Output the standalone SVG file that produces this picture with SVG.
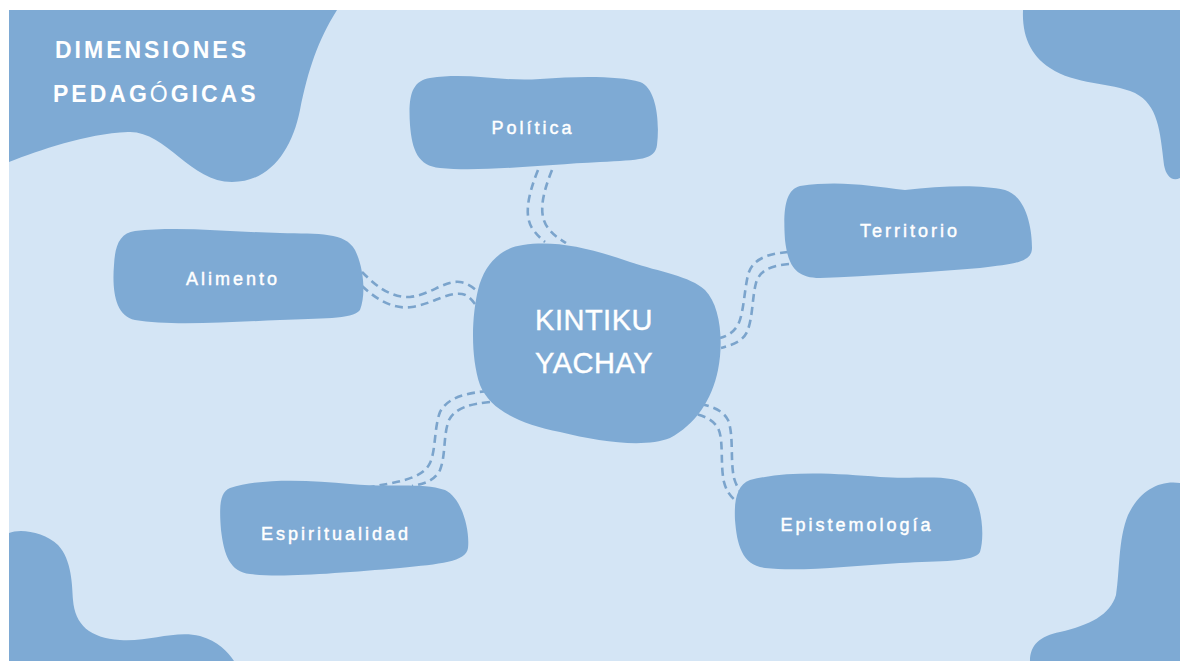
<svg xmlns="http://www.w3.org/2000/svg" width="1180" height="661" viewBox="0 0 1180 661">
<style>
.blob{fill:#7eaad4}
.conn{fill:none;stroke:#7ba4cc;stroke-width:2.6;stroke-dasharray:8 5;stroke-linecap:butt}
.lbl{font-family:"Liberation Sans",Arial,sans-serif;font-size:18px;fill:#ffffff;stroke:#ffffff;stroke-width:0.45;letter-spacing:3px;text-anchor:middle}
.ctr{font-family:"Liberation Sans",Arial,sans-serif;font-size:29px;fill:#ffffff;stroke:#ffffff;stroke-width:0.4;letter-spacing:0.5px;text-anchor:middle}
.ttl{font-family:"Liberation Sans",Arial,sans-serif;font-size:23px;font-weight:bold;fill:#ffffff;letter-spacing:3px}
</style>
<rect x="0" y="0" width="1180" height="661" fill="#ffffff"/>
<rect x="9" y="10" width="1171" height="651" fill="#d4e5f5"/>
<g id="decor">
<path class="blob" d="M9,10 L337,10 C318,40 308,70 300,110 C292,150 270,182 232,182 C190,182 165,130 128,132 C85,134 40,150 9,162 Z"/>
<path class="blob" d="M1023,10 L1180,10 L1180,178 C1172,182 1166,176 1164,165 C1160,130 1158,105 1135,93 C1110,82 1075,85 1050,68 C1030,55 1022,35 1023,10 Z"/>
<path class="blob" d="M9,533 C20,528 45,532 58,545 C72,560 72,585 73,600 C75,625 90,638 120,640 C150,642 175,630 200,636 C218,641 228,652 234,661 L9,661 Z"/>
<path class="blob" d="M1180,483 C1160,480 1140,490 1128,515 C1118,540 1120,570 1116,595 C1110,615 1090,625 1060,632 C1040,636 1030,645 1030,661 L1180,661 Z"/>
</g>
<g id="title">
<text class="ttl" x="55" y="58">DIMENSIONES</text>
<text class="ttl" x="53" y="102">PEDAG<tspan font-weight="normal">Ó</tspan>GICAS</text>
</g>
<g id="connectors">
<path class="conn" d="M538,170 C528,195 524,215 532,228 C536,234 540,238 545,242"/>
<path class="conn" d="M552,170 C542,195 538,215 548,228 C553,235 558,238 566,243"/>
<path class="conn" d="M362,272 C375,285 390,298 410,297 C430,295 445,280 460,282 C468,283 474,288 478,292"/>
<path class="conn" d="M362,286 C375,298 392,310 412,307 C432,304 447,292 462,294 C468,295 472,300 475,304"/>
<path class="conn" d="M788,252 C765,254 752,260 748,275 C744,292 744,312 738,325 C733,333 727,336 720,338"/>
<path class="conn" d="M789,264 C770,266 760,270 756,283 C752,298 753,318 747,332 C742,342 732,345 721,348"/>
<path class="conn" d="M688,402 C705,404 722,408 728,420 C734,435 730,460 734,478 C736,485 739,490 742,494"/>
<path class="conn" d="M685,412 C700,414 712,418 718,428 C724,440 720,465 724,482 C726,490 730,496 735,500"/>
<path class="conn" d="M488,391 C465,393 447,398 440,412 C434,428 436,450 430,463 C422,480 395,482 366,488"/>
<path class="conn" d="M490,402 C470,404 455,408 449,420 C443,435 446,455 440,470 C435,480 425,484 412,486"/>
</g>
<g id="node-center">
<path class="blob" d="M523,245 C555,240 590,248 630,262 C660,272 690,276 705,290 C720,305 724,340 718,370 C712,400 695,425 670,438 C645,448 600,442 560,432 C520,424 490,410 480,385 C470,355 472,315 478,290 C484,265 500,248 523,245 Z"/>
<text class="ctr" x="594" y="330">KINTIKU</text>
<text class="ctr" x="594" y="373">YACHAY</text>
</g>
<g id="node-politica">
<path class="blob" d="M430,78 C470,72 500,82 540,79 C580,76 620,76 640,82 C656,88 660,120 657,145 C655,160 640,160 600,162 C540,165 480,172 440,168 C418,166 412,150 410,125 C408,95 412,81 430,78 Z"/>
<text class="lbl" x="533" y="134">Política</text>
</g>
<g id="node-alimento">
<path class="blob" d="M135,231 C180,226 230,232 280,233 C320,234 345,232 355,250 C364,268 366,295 360,310 C352,320 320,318 280,320 C230,322 170,326 135,320 C115,316 112,290 114,265 C115,245 120,233 135,231 Z"/>
<text class="lbl" x="233" y="285">Alimento</text>
</g>
<g id="node-territorio">
<path class="blob" d="M800,186 C840,180 870,186 905,190 C940,186 980,184 1005,190 C1025,196 1032,225 1032,248 C1032,262 1015,264 980,268 C930,272 870,276 820,278 C795,278 788,265 785,240 C783,210 785,190 800,186 Z"/>
<text class="lbl" x="910" y="237">Territorio</text>
</g>
<g id="node-epistemologia">
<path class="blob" d="M750,480 C790,470 840,474 880,477 C920,480 955,472 970,488 C982,505 985,535 980,552 C975,562 940,561 900,563 C850,566 800,572 765,568 C742,565 737,545 735,520 C734,500 737,485 750,480 Z"/>
<text class="lbl" x="857" y="531">Epistemología</text>
</g>
<g id="node-espiritualidad">
<path class="blob" d="M230,488 C260,478 310,480 350,484 C390,488 420,482 445,490 C462,498 470,530 468,548 C466,562 440,564 400,568 C340,573 280,578 250,574 C230,572 224,555 221,530 C219,505 220,492 230,488 Z"/>
<text class="lbl" x="336" y="540">Espiritualidad</text>
</g>
</svg>
